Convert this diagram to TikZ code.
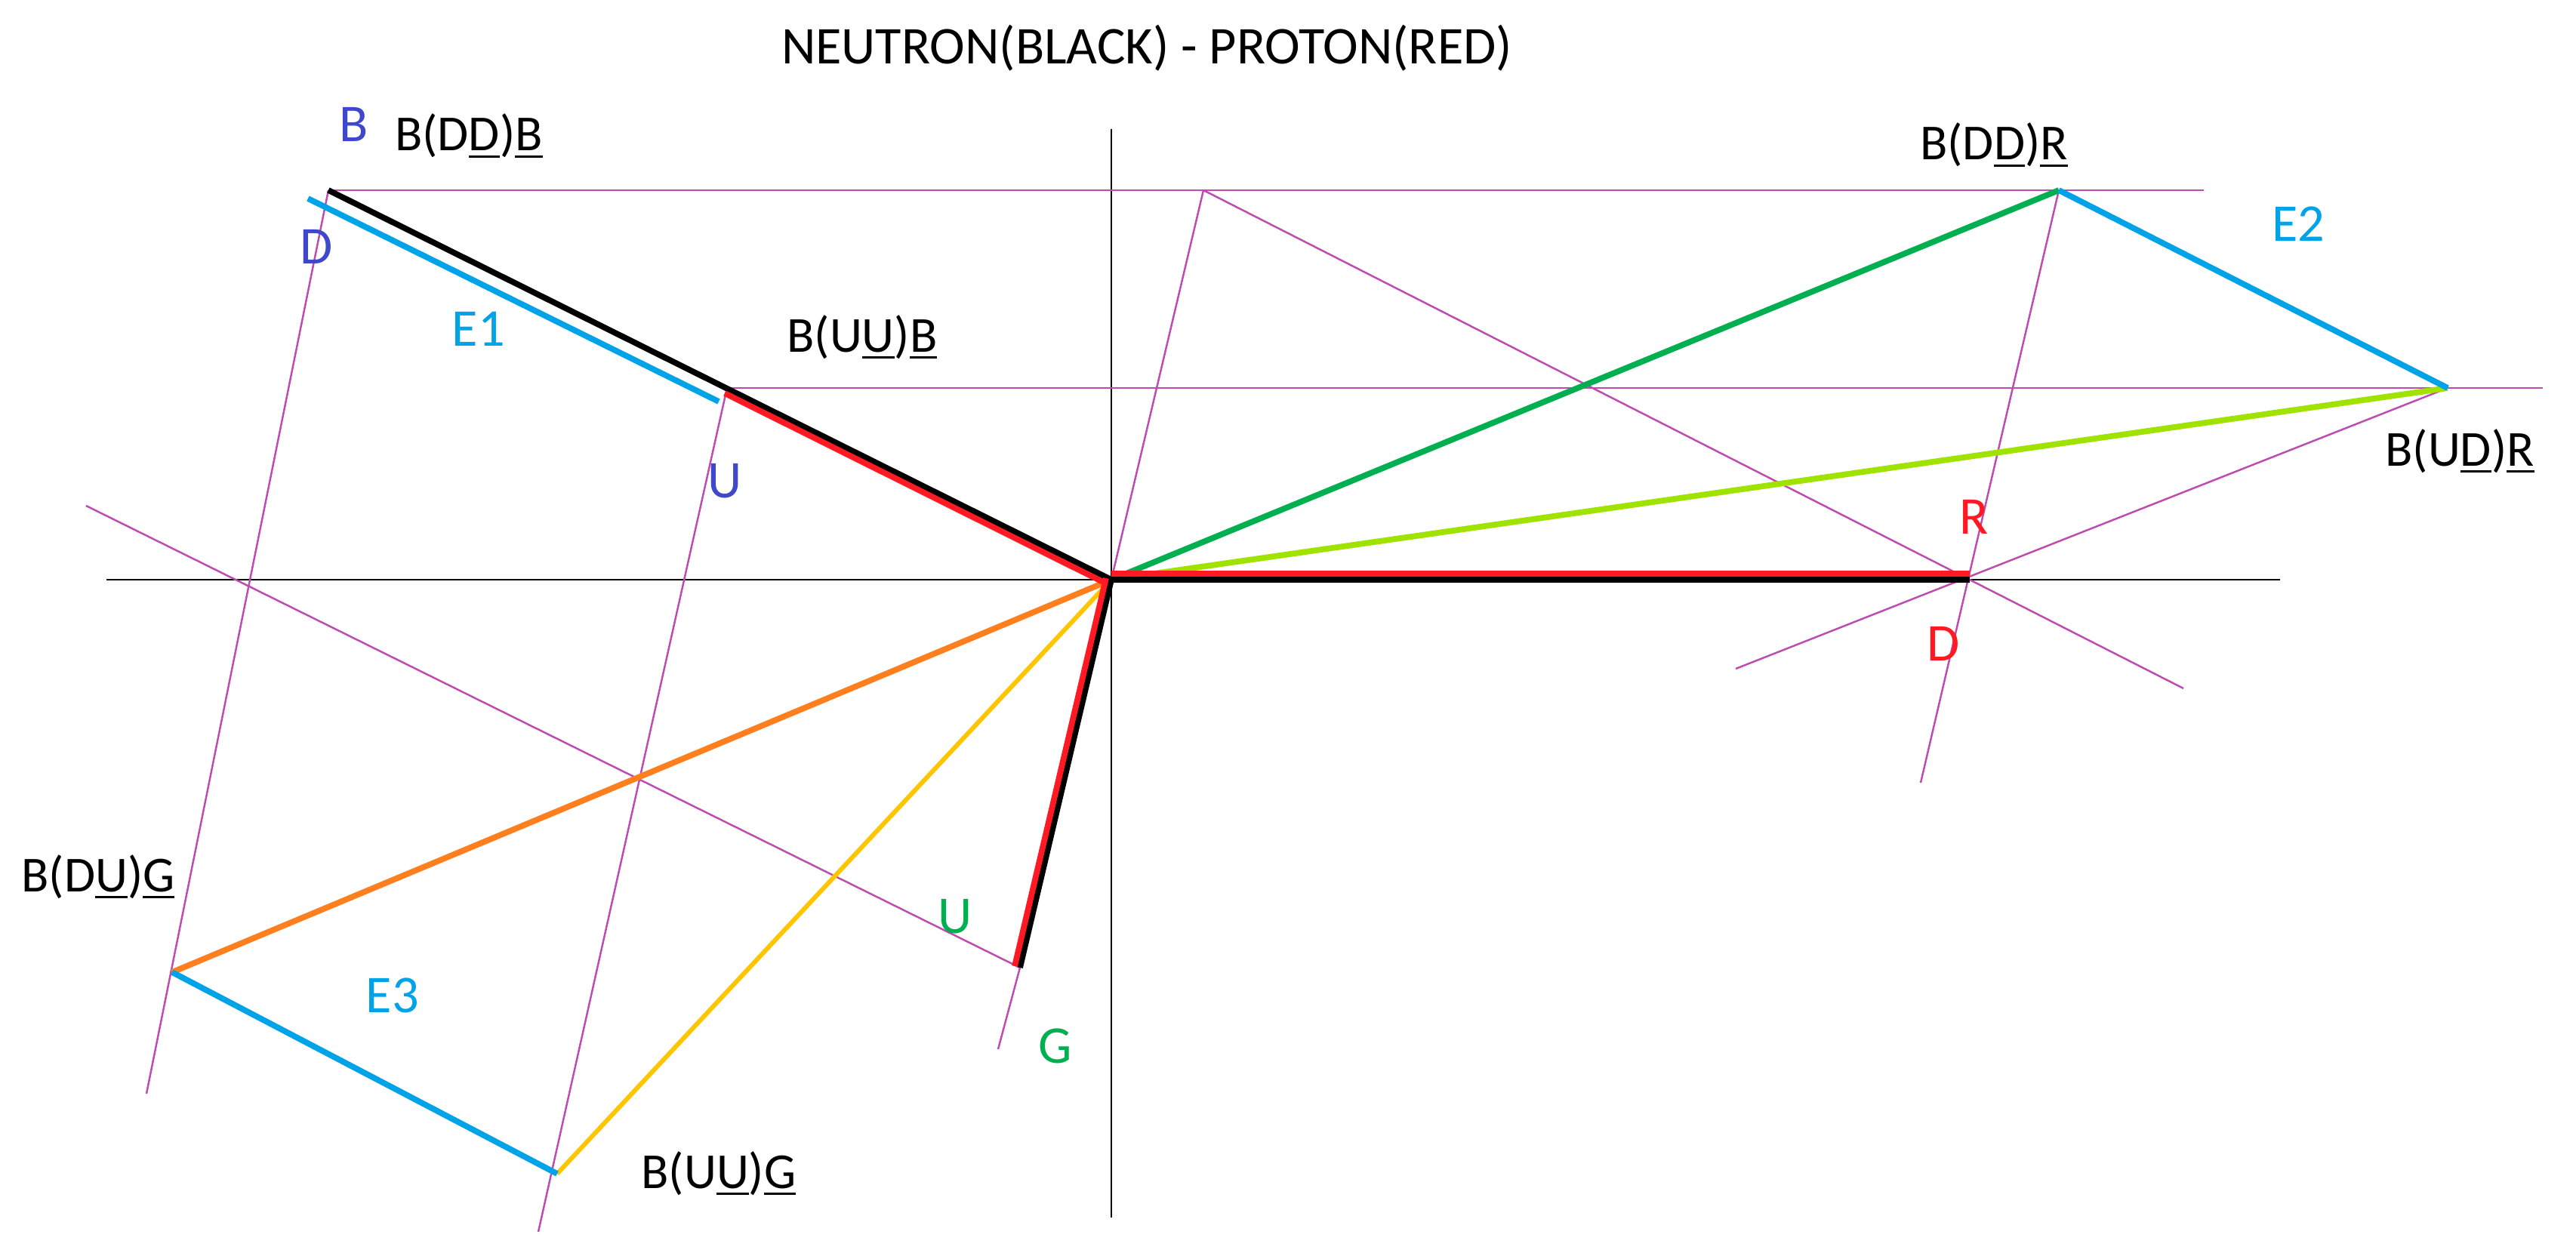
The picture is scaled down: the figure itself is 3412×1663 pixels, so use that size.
\documentclass[tikz,border=0pt]{standalone}
\usepackage{fontspec}
\setmainfont{Carlito}
\usepackage{xcolor}
\usepackage{tikz}
\usetikzlibrary{positioning}

\definecolor{guidemag}{RGB}{190,76,176}
\definecolor{pred}{RGB}{255,25,35}
\definecolor{pgreen}{RGB}{0,176,80}
\definecolor{plime}{RGB}{160,226,0}
\definecolor{porange}{RGB}{255,127,30}
\definecolor{pyellow}{RGB}{255,198,0}
\definecolor{psky}{RGB}{0,162,232}
\definecolor{pindigo}{RGB}{63,72,204}

\newcommand{\antiq}[1]{\setbox0\hbox{#1}\rlap{\rule[-2.6pt]{\wd0}{0.8pt}}\box0}

\begin{document}
\begin{tikzpicture}[
        x=0.01cm, y=0.01cm,
        guide/.style={guidemag, line width=0.7pt},
        axis/.style={black, line width=0.75pt},
        bond/.style={line width=2.2pt},
        lab/.style={anchor=base, inner sep=0pt, font=\fontsize{19}{22}\selectfont},
        letter/.style={anchor=base, inner sep=0pt, font=\fontsize{20}{24}\selectfont}
    ]
        \useasboundingbox (-1472,768) rectangle (1940,-895);

        % Points
        \coordinate (O) at (0,0);
        \coordinate (bddb) at (-1037,516);
        \coordinate (buub) at (-509,254);
        \coordinate (bddr) at (1255,516);
        \coordinate (budr) at (1770,254);
        \coordinate (rd) at (1137,0);
        \coordinate (bdug) at (-1244,-520);
        \coordinate (buug) at (-734,-787);
        \coordinate (gu) at (-121,-514);
        \coordinate (ttop) at (122,516);
        \coordinate (eonea) at (-1064,505);
        \coordinate (eoneb) at (-520,236);

        % Axes
        \draw[axis] (-1331,0) -- (1548,0);
        \draw[axis] (0,597) -- (0,-845);

        % Guide lines
        \draw[guide, line width=0.85pt] (bddb) -- (1447,516);
        \draw[guide, line width=0.85pt] (buub) -- (1896,254);
        \draw[guide] (bddb) -- (-1278,-681);
        \draw[guide] (buub) -- (-759,-864);
        \draw[guide] (O) -- (ttop);
        \draw[guide] (bddr) -- (1072,-269);
        \draw[guide] (gu) -- (-150,-622);
        \draw[guide] (-1358,98) -- (gu);
        \draw[guide] (ttop) -- (1420,-144);
        \draw[guide] (827,-118) -- (budr);

        % Quark lines
        \draw[bond, pgreen] (O) -- (bddr);
        \draw[bond, plime] (O) -- (budr);
        \draw[bond, porange] (O) -- (bdug);
        \draw[bond, pyellow, line width=1.7pt] (O) -- (buug);
        \draw[bond, psky] (eonea) -- (eoneb);
        \draw[bond, psky] (bddr) -- (budr);
        \draw[bond, psky] (bdug) -- (buug);

        % Neutron and proton
        \draw[bond, black] (bddb) -- (O);
        \draw[bond, pred] ([shift={(-3,-7)}]buub) -- ([shift={(-3,-7)}]O);
        \draw[bond, black] (O) -- (rd);
        \draw[bond, pred] ([shift={(0,8)}]O) -- ([shift={(0,8)}]rd);
        \draw[bond, black] (O) -- (gu);
        \draw[bond, pred] ([shift={(-7,2)}]O) -- ([shift={(-7,2)}]gu);

        % Labels
        \node[letter] (title) at (47,683) {NEUTRON(BLACK) - PROTON(RED)};
        \node[letter, pindigo] (lb) at (-1003,580) {B};
        \node[lab] (lbddb) at (-851,568) {B(D\antiq{D})\antiq{B}};
        \node[letter, pindigo] (ld) at (-1053,419) {D};
        \node[letter, psky] (le1) at (-838,310) {E1};
        \node[lab] (lbuub) at (-330,302) {B(U\antiq{U})\antiq{B}};
        \node[letter, pindigo] (lu) at (-512,109) {U};
        \node[lab] (lbddr) at (1169,556) {B(D\antiq{D})\antiq{R}};
        \node[letter, psky] (le2) at (1572,448) {E2};
        \node[lab] (lbudr) at (1786,151) {B(U\antiq{D})\antiq{R}};
        \node[letter, pred] (lr) at (1143,61) {R};
        \node[letter, pred] (lrd) at (1102,-107) {D};
        \node[lab] (lbdug) at (-1342,-413) {B(D\antiq{U})\antiq{G}};
        \node[letter, psky] (le3) at (-952,-573) {E3};
        \node[lab] (lbuug) at (-520,-806) {B(U\antiq{U})\antiq{G}};
        \node[letter, pgreen] (lgu) at (-207,-468) {U};
        \node[letter, pgreen] (lg) at (-74,-640) {G};
    \end{tikzpicture}
\end{document}
